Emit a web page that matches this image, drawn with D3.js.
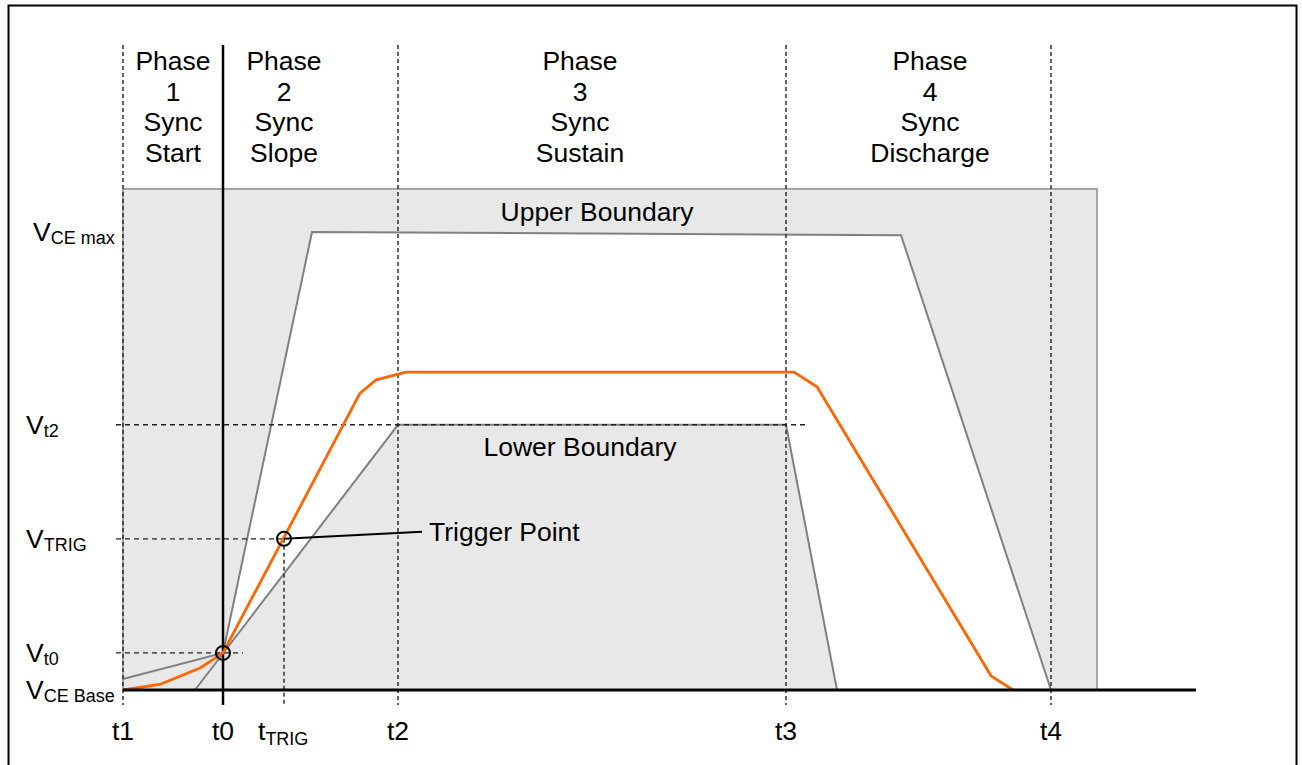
<!DOCTYPE html>
<html>
<head>
<meta charset="utf-8">
<script src="https://cdn.jsdelivr.net/npm/d3@7"></script>
<style>
  body { margin: 0; background: #fff; }
  svg { display: block; font-family: 'Liberation Sans', Arial, sans-serif; }
</style>
</head>
<body>
<script>
// time marks (arbitrary units, t0 = 0)
const timeNames = ['t1', 't0', 'tTRIG', 't2', 't3', 't4']
const timeValues = [-10, 0, 6.1, 17.5, 56.3, 82.8]

// voltage levels (0 = VCE Base, 100 = VCE max)
const levelNames = ['VCE Base', 'Vt0', 'VTRIG', 'Vt2', 'VCE max']
const levelValues = [0, 8.1, 33.0, 57.9, 100]

// boundary envelope
const upperT = [-10, 0, 8.9, 67.8, 82.8]
const upperV = [2.4, 8.1, 100, 99.3, 0]
const lowerT = [-2.8, 17.5, 56.3, 61.4]
const lowerV = [0, 57.9, 57.9, 0]
const boxT = [-10, 87.4]
const boxTop = 109.4
const axisEnd = 97.3

// measured signal
const signalT = [-10, -6.2, -2.3, -0.9, 0, 13.7, 15.3, 18.3, 57.1, 59.4, 76.8, 79.0]
const signalV = [0, 1.3, 4.8, 6.8, 8.1, 64.8, 67.7, 69.4, 69.4, 66.2, 3.1, 0]

// phase captions
const phaseCenters = [-5, 6.1, 35.7, 70.7]
const phaseLines = [
  ['Phase', '1', 'Sync', 'Start'],
  ['Phase', '2', 'Sync', 'Slope'],
  ['Phase', '3', 'Sync', 'Sustain'],
  ['Phase', '4', 'Sync', 'Discharge']
]

const W = 1302
const H = 765
const fontSize = 26.5
const subSize = 18
const grey = '#808080'
const orange = '#ff6600'

const x = d3.scaleLinear().domain([-10, axisEnd]).range([123, 1196])
const y = d3.scaleLinear().domain([0, 100]).range([690, 232])

const svg = d3.select('body').append('svg')
  .attr('width', W)
  .attr('height', H)

// outer frame
svg.append('rect')
  .attr('x', 8.5).attr('y', 5.5)
  .attr('width', 1288).attr('height', 780)
  .attr('fill', 'none')
  .attr('stroke', '#000')
  .attr('stroke-width', 2)

const zip = (ts, vs) => ts.map((t, i) => [x(t), y(vs[i])])

// shaded forbidden area
svg.append('rect')
  .attr('x', x(boxT[0]))
  .attr('y', y(boxTop))
  .attr('width', x(boxT[1]) - x(boxT[0]))
  .attr('height', y(0) - y(boxTop))
  .attr('fill', '#e8e8e8')
  .attr('stroke', '#8c8c8c')
  .attr('stroke-width', 1.5)

// allowed corridor between the boundaries (white)
const corridor = zip(upperT.slice(1), upperV.slice(1))
  .concat(zip(lowerT.slice(2).reverse(), lowerV.slice(2).reverse()))
  .concat([[x(lowerT[1]), y(lowerV[1])], [x(upperT[1]), y(upperV[1])]])
svg.append('path')
  .attr('d', 'M' + corridor.join('L') + 'Z')
  .attr('fill', '#fff')

const line = d3.line()

// boundary lines
svg.append('path')
  .attr('d', line(zip(upperT, upperV)))
  .attr('fill', 'none')
  .attr('stroke', grey)
  .attr('stroke-width', 2)
svg.append('path')
  .attr('d', line(zip(lowerT, lowerV)))
  .attr('fill', 'none')
  .attr('stroke', grey)
  .attr('stroke-width', 2)

const tOf = name => timeValues[timeNames.indexOf(name)]
const vOf = name => levelValues[levelNames.indexOf(name)]

// vertical guides
const guideTop = 45
const guideBottom = y(0) + 15
timeNames.forEach((n, i) => {
  const solid = n === 't0'
  svg.append('line')
    .attr('x1', x(timeValues[i])).attr('x2', x(timeValues[i]))
    .attr('y1', n === 'tTRIG' ? y(vOf('VTRIG')) : guideTop)
    .attr('y2', guideBottom)
    .attr('stroke', solid ? '#000' : '#222')
    .attr('stroke-width', solid ? 2.5 : 1.4)
    .attr('stroke-dasharray', solid ? null : '4,3')
})

// horizontal guides
const hGuides = [
  { level: 'Vt0', to: x(tOf('t0')) + 20 },
  { level: 'VTRIG', to: x(tOf('tTRIG')) },
  { level: 'Vt2', to: x(tOf('t3')) + 22 }
]
hGuides.forEach(g => {
  svg.append('line')
    .attr('x1', 116).attr('x2', g.to)
    .attr('y1', y(vOf(g.level))).attr('y2', y(vOf(g.level)))
    .attr('stroke', '#222')
    .attr('stroke-width', 1.4)
    .attr('stroke-dasharray', '5,4')
})

// signal
svg.append('path')
  .attr('d', line(zip(signalT, signalV)))
  .attr('fill', 'none')
  .attr('stroke', orange)
  .attr('stroke-width', 2.8)
  .attr('stroke-linejoin', 'round')

// base axis
svg.append('line')
  .attr('x1', x(-10)).attr('x2', x(axisEnd))
  .attr('y1', y(0)).attr('y2', y(0))
  .attr('stroke', '#000')
  .attr('stroke-width', 3)

// trigger point leader
const trig = [x(tOf('tTRIG')), y(vOf('VTRIG'))]
svg.append('line')
  .attr('x1', trig[0]).attr('y1', trig[1])
  .attr('x2', 422).attr('y2', trig[1] - 7)
  .attr('stroke', '#000')
  .attr('stroke-width', 2)
svg.append('text')
  .attr('x', 429).attr('y', trig[1] + 2)
  .attr('font-size', fontSize)
  .text('Trigger Point')

// markers
;[[tOf('t0'), vOf('Vt0')], [tOf('tTRIG'), vOf('VTRIG')]].forEach(p => {
  svg.append('circle')
    .attr('cx', x(p[0])).attr('cy', y(p[1]))
    .attr('r', 7)
    .attr('fill', 'none')
    .attr('stroke', '#000')
    .attr('stroke-width', 2)
})

// boundary captions
svg.append('text')
  .attr('x', x(37.4)).attr('y', y(upperV[2]) - 11)
  .attr('text-anchor', 'middle')
  .attr('font-size', fontSize)
  .text('Upper Boundary')
svg.append('text')
  .attr('x', x(35.7)).attr('y', y(lowerV[1]) + 31)
  .attr('text-anchor', 'middle')
  .attr('font-size', fontSize)
  .text('Lower Boundary')

// subscripted label helper: first char big, rest as subscript
function subLabel (sel, name, shift) {
  const main = name[0]
  const sub = name.slice(1)
  sel.append('tspan').text(main)
  sel.append('tspan')
    .attr('font-size', subSize)
    .attr('dy', shift)
    .text(sub)
}

// level labels
levelNames.forEach((n, i) => {
  const t = svg.append('text')
    .attr('x', n === 'VCE max' ? 33 : 26)
    .attr('y', y(levelValues[i]) + 9)
    .attr('font-size', fontSize)
  subLabel(t, n, 3)
})

// time labels
timeNames.forEach((n, i) => {
  const t = svg.append('text')
    .attr('y', 740)
    .attr('font-size', fontSize)
  if (n === 'tTRIG') {
    t.attr('x', x(timeValues[i]) - 26)
    subLabel(t, n, 5)
  } else {
    t.attr('x', x(timeValues[i]))
      .attr('text-anchor', 'middle')
      .text(n)
  }
})

// phase captions
phaseLines.forEach((lines, i) => {
  const t = svg.append('text')
    .attr('text-anchor', 'middle')
    .attr('font-size', fontSize)
  lines.forEach((l, j) => {
    t.append('tspan')
      .attr('x', x(phaseCenters[i]))
      .attr('y', 70 + j * 30.5)
      .text(l)
  })
})
</script>
</body>
</html>
